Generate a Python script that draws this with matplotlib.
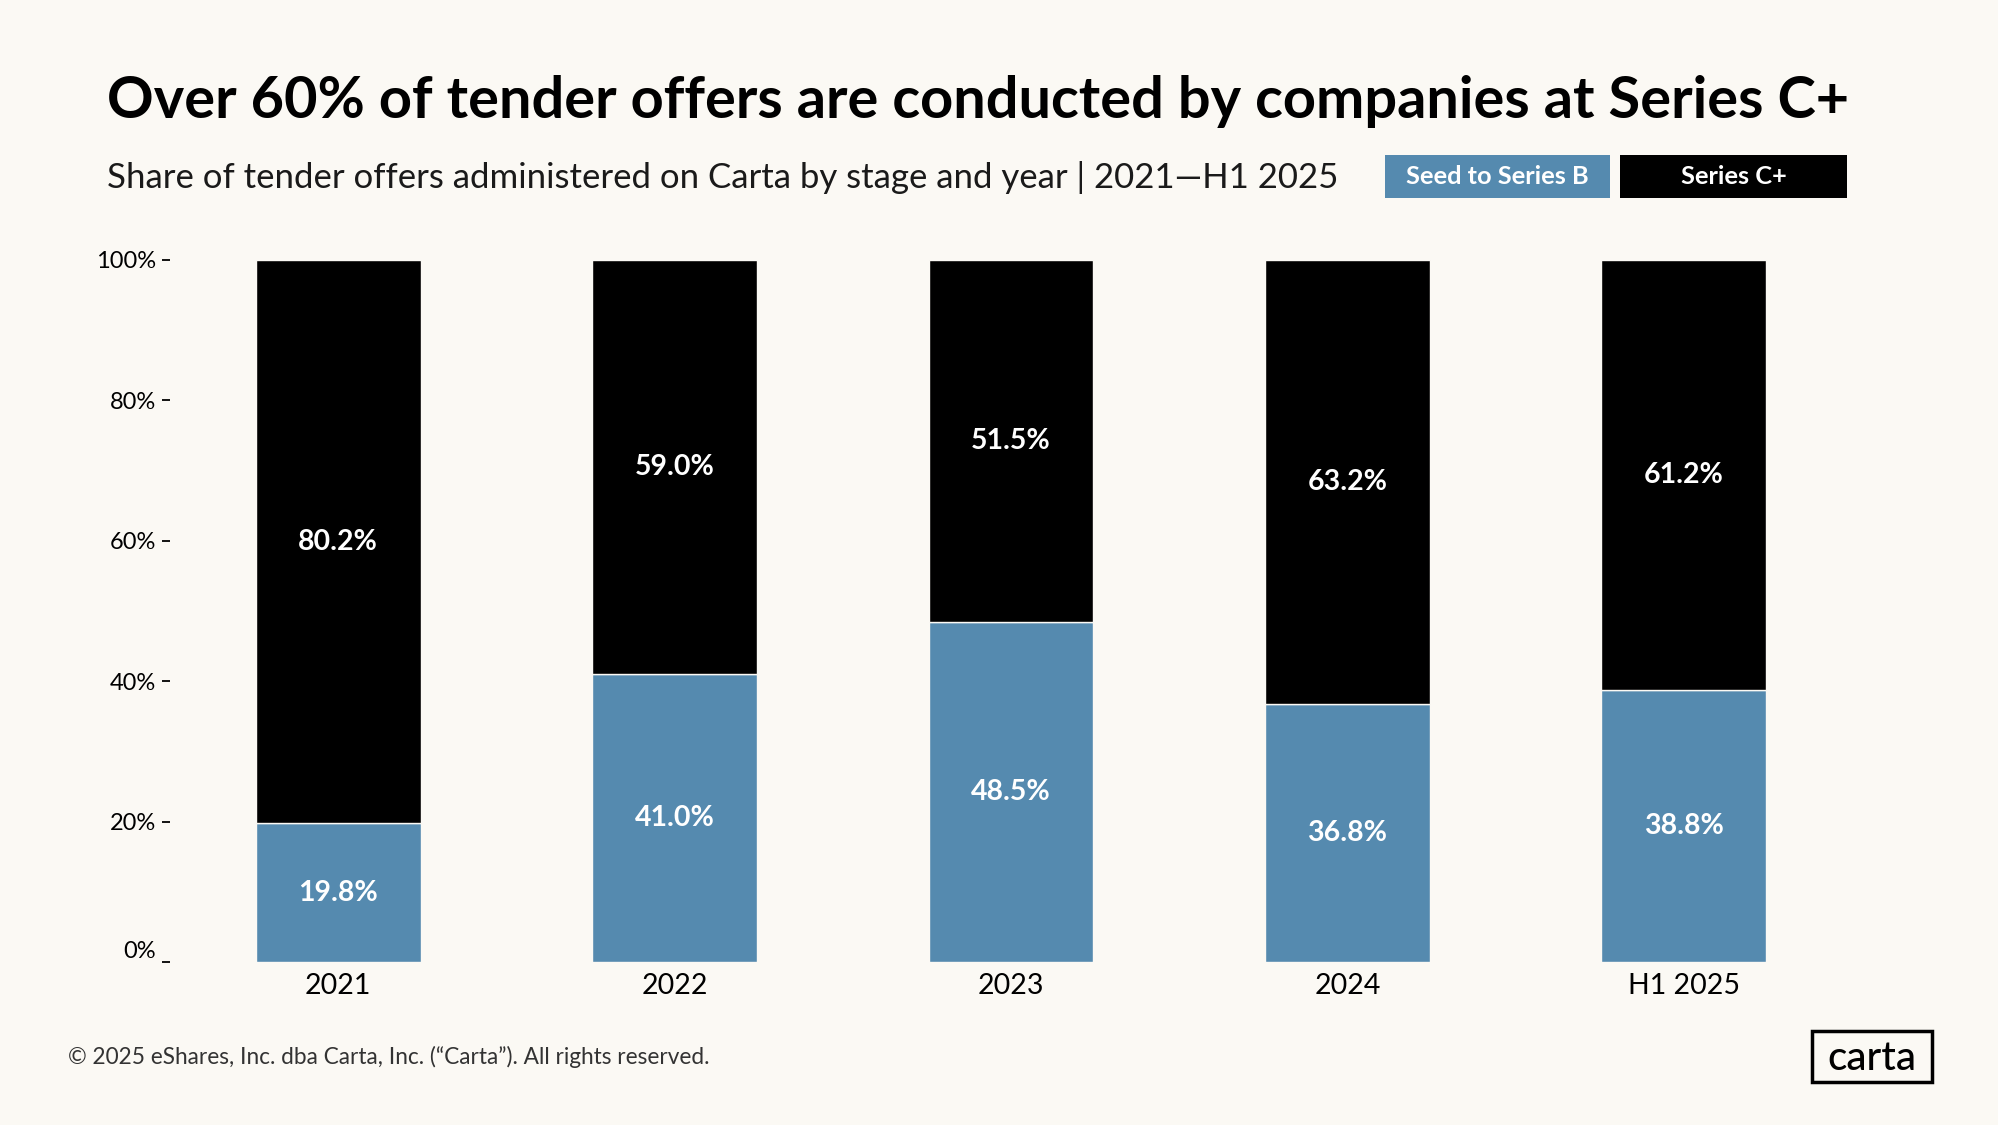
import matplotlib
matplotlib.use("Agg")
import matplotlib.pyplot as plt
from matplotlib.patches import Rectangle
from matplotlib.transforms import ScaledTranslation

years = ['2021', '2022', '2023', '2024', 'H1 2025']
seed_to_b = [19.8, 41.0, 48.5, 36.8, 38.8]
series_c = [80.2, 59.0, 51.5, 63.2, 61.2]
yticks = [0, 20, 40, 60, 80, 100]
ytick_labels = ['0%', '20%', '40%', '60%', '80%', '100%']

BG = '#FBF9F4'
BLUE = '#558AAF'
BLACK = '#000000'
FONT = ['Lato', 'DejaVu Sans']
plt.rcParams['font.family'] = FONT

W, H = 1999, 1125
fig = plt.figure(figsize=(W / 100, H / 100), dpi=100, facecolor=BG)
ax = fig.add_axes([170 / W, 1 - 962 / H, (1852 - 170) / W, (962 - 260) / H])
ax.set_facecolor(BG)

x = list(range(len(years)))
bw = 0.49
ax.bar(x, seed_to_b, width=bw, color=BLUE, edgecolor=BG, linewidth=1.0)
ax.bar(x, series_c, width=bw, bottom=seed_to_b, color=BLACK, edgecolor=BG, linewidth=1.0)

for xi, s, c in zip(x, seed_to_b, series_c):
    ax.text(xi, s / 2, f'{s:.1f}%', ha='center', va='center', color='white',
            fontsize=20.5, fontweight='bold')
    ax.text(xi, s + c / 2, f'{c:.1f}%', ha='center', va='center', color='white',
            fontsize=20.5, fontweight='bold')

ax.set_xlim(-0.5, len(years) - 0.5)
ax.set_ylim(0, 100)
ax.set_xticks(x)
ax.set_xticklabels(years, fontsize=20.5)
ax.set_yticks(yticks)
ax.set_yticklabels(ytick_labels, fontsize=17)
ax.tick_params(axis='x', length=0, pad=8)
ax.tick_params(axis='y', length=6, width=1.3, pad=4, color='black')
for sp in ax.spines.values():
    sp.set_visible(False)
lab0 = ax.get_yticklabels()[0]
lab0.set_transform(lab0.get_transform() + ScaledTranslation(0, 9 / 72, fig.dpi_scale_trans))

# Title and subtitle
fig.text(107 / W, 1 - 102 / H, 'Over 60% of tender offers are conducted by companies at Series C+',
         fontsize=41.6, fontweight='bold', ha='left', va='center', color='black')
fig.text(107 / W, 1 - 178 / H, 'Share of tender offers administered on Carta by stage and year | 2021\u2014H1 2025',
         fontsize=25, ha='left', va='center', color='#1a1a1a')

# Legend boxes
for (x0, x1, col, lab) in [(1385, 1610, BLUE, 'Seed to Series B'), (1620, 1847, BLACK, 'Series C+')]:
    fig.patches.append(Rectangle((x0 / W, 1 - 198 / H), (x1 - x0) / W, 43 / H,
                                 transform=fig.transFigure, facecolor=col, edgecolor='none'))
    fig.text((x0 + x1) / 2 / W, 1 - 177 / H, lab, ha='center', va='center', color='white',
             fontsize=18.3, fontweight='bold')

# Footer
fig.text(68 / W, 1 - 1057 / H, '\u00a9 2025 eShares, Inc. dba Carta, Inc. (\u201cCarta\u201d). All rights reserved.',
         fontsize=16.3, ha='left', va='center', color='#333333')

# Logo
fig.patches.append(Rectangle((1812 / W, 1 - 1082 / H), 120 / W, 51 / H, transform=fig.transFigure,
                             facecolor='none', edgecolor='black', linewidth=2.5))
fig.text(1872 / W, 1 - 1058 / H, 'carta', ha='center', va='center', fontsize=29, color='black',
         fontweight='medium')

fig.savefig('out.png', dpi=100, facecolor=BG)
